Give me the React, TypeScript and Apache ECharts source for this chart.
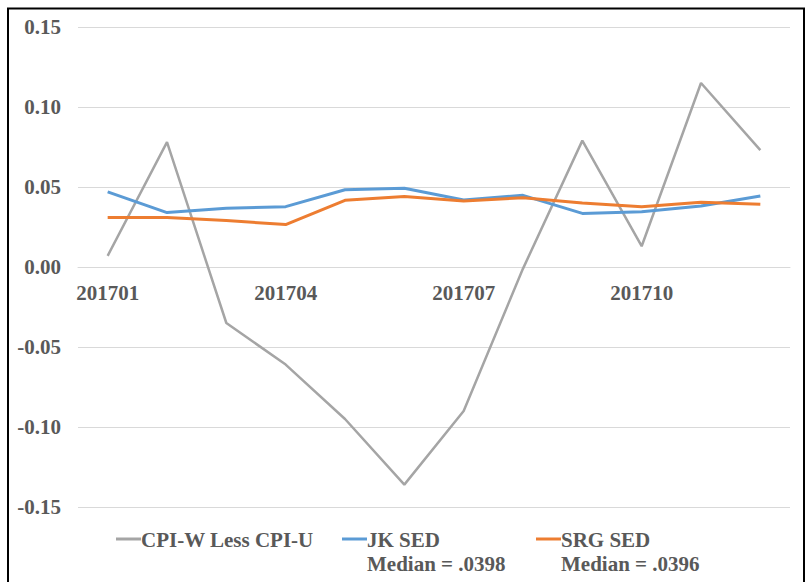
import React, { useEffect, useRef } from "react";
import * as echarts from "echarts";

const categories = ["201701","201702","201703","201704","201705","201706","201707","201708","201709","201710","201711","201712"];
const cpiWLessCpiU = [0.007, 0.078, -0.035, -0.061, -0.095, -0.136, -0.090, -0.001, 0.079, 0.013, 0.115, 0.073];
const jkSed = [0.047, 0.034, 0.0367, 0.0377, 0.0483, 0.0492, 0.0419, 0.0448, 0.0335, 0.0346, 0.0381, 0.0444];
const srgSed = [0.031, 0.031, 0.029, 0.0265, 0.0417, 0.044, 0.0412, 0.0433, 0.040, 0.0377, 0.0404, 0.0392];
const seriesNames = ["CPI-W Less CPI-U", "JK SED", "SRG SED"];
const medianNotes = ["", "Median = .0398", "Median = .0396"];
const colors = ["#A5A5A5", "#5B9BD5", "#ED7D31"];
const yMin = -0.15;
const yMax = 0.15;

const FONT = "'Liberation Serif', 'Times New Roman', serif";
const TXT = "#595959";

export default function App() {
  const ref = useRef<HTMLDivElement>(null);
  useEffect(() => {
    if (!ref.current) return;
    const chart = echarts.init(ref.current, undefined, { renderer: "svg" });
    const gridTop = 27;
    const gridBottom = 75;
    const gridHeight = 582 - gridTop - gridBottom;
    // distance from the bottom of the grid up to the zero value
    const zeroOffset = (gridHeight * (0 - yMin)) / (yMax - yMin);
    const legendIconX = [116, 342, 536];
    const legendTextX = [141, 367, 561];
    const graphics: any[] = [
      {
        type: "rect",
        shape: { x: 8, y: 8.5, width: 796, height: 620 },
        style: { fill: "none", stroke: "#000", lineWidth: 2 },
        silent: true,
        z: 100,
      },
    ];
    seriesNames.forEach((name, i) => {
      graphics.push({
        type: "line",
        shape: { x1: legendIconX[i], y1: 539, x2: legendIconX[i] + 25, y2: 539 },
        style: { stroke: colors[i], lineWidth: 3 },
      });
      graphics.push({
        type: "text",
        x: legendTextX[i],
        y: 540,
        style: { text: name, fill: TXT, font: `bold 21px ${FONT}`, verticalAlign: "middle", align: "left" },
      });
      if (medianNotes[i]) {
        graphics.push({
          type: "text",
          x: legendTextX[i],
          y: 564,
          style: { text: medianNotes[i], fill: TXT, font: `bold 21px ${FONT}`, verticalAlign: "middle", align: "left" },
        });
      }
    });
    chart.setOption({
      animation: false,
      backgroundColor: "#fff",
      grid: { left: 78, right: 16, top: gridTop, bottom: gridBottom, containLabel: false },
      xAxis: {
        type: "category",
        data: categories,
        boundaryGap: true,
        position: "bottom",
        offset: -zeroOffset,
        axisLine: { show: true, onZero: false, lineStyle: { color: "#D9D9D9", width: 1 } },
        axisTick: { show: false },
        axisLabel: { interval: 2, margin: 15, color: TXT, fontFamily: FONT, fontWeight: "bold", fontSize: 21 },
        splitLine: { show: false },
      },
      yAxis: {
        type: "value",
        min: yMin,
        max: yMax,
        interval: 0.05,
        axisLine: { show: false },
        axisTick: { show: false },
        axisLabel: {
          margin: 17,
          color: TXT,
          fontFamily: FONT,
          fontWeight: "bold",
          fontSize: 21,
          formatter: (v: number) => v.toFixed(2),
        },
        splitLine: { lineStyle: { color: "#D9D9D9", width: 1 } },
      },
      series: [
        { name: seriesNames[0], type: "line", data: cpiWLessCpiU, symbol: "none", lineStyle: { color: colors[0], width: 2.5 }, itemStyle: { color: colors[0] } },
        { name: seriesNames[1], type: "line", data: jkSed, symbol: "none", lineStyle: { color: colors[1], width: 3 }, itemStyle: { color: colors[1] } },
        { name: seriesNames[2], type: "line", data: srgSed, symbol: "none", lineStyle: { color: colors[2], width: 3 }, itemStyle: { color: colors[2] } },
      ],
      graphic: graphics,
    });
    return () => chart.dispose();
  }, []);
  return <div ref={ref} style={{ position: "absolute", left: 0, top: 0, width: 806, height: 582 }} />;
}
